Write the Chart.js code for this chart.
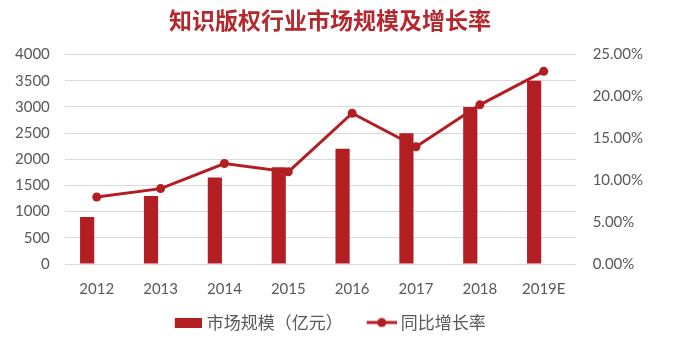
<!DOCTYPE html>
<html>
<head>
<meta charset="utf-8">
<script src="https://cdn.jsdelivr.net/npm/chart.js@4/dist/chart.umd.min.js"></script>
<style>
  html, body { margin: 0; padding: 0; background: #fff; }
  #wrap { width: 684px; height: 345px; }
</style>
</head>
<body>
<div id="wrap"><canvas id="chart"></canvas></div>
<script>
// 年份与数据
const years = ['2012', '2013', '2014', '2015', '2016', '2017', '2018', '2019E'];
const marketSize = [900, 1300, 1650, 1850, 2200, 2500, 3000, 3500];   // 亿元
const growthRate = [8, 9, 12, 11, 18, 14, 19, 23];                    // %
const leftTicks = [0, 4000, 500];
const rightTicks = [0, 25, 5];

const RED = '#B31E23';
const TICK_COLOR = '#595959';
const NUM_FONT = 'Lato, "Noto Sans CJK SC", sans-serif';
const CJK_FONT = '"Noto Sans CJK SC", sans-serif';

// 图例图标：柱形色块、带圆点的折线（图标靠右，紧贴文字）
function barIcon() {
    const c = document.createElement('canvas');
    c.width = 31; c.height = 10;
    const g = c.getContext('2d');
    g.fillStyle = RED;
    g.fillRect(4, 0, 27, 10);
    return c;
}
function lineIcon() {
    const c = document.createElement('canvas');
    c.width = 33; c.height = 12;
    const g = c.getContext('2d');
    g.strokeStyle = RED;
    g.lineWidth = 3;
    g.beginPath(); g.moveTo(3, 6); g.lineTo(33, 6); g.stroke();
    g.fillStyle = RED;
    g.beginPath(); g.arc(18, 6, 4.5, 0, Math.PI * 2); g.fill();
    return c;
}

const ctx = document.getElementById('chart').getContext('2d');
new Chart(ctx, {
    data: {
        labels: years,
        datasets: [
            {
                type: 'line',
                label: '同比增长率',
                data: growthRate,
                yAxisID: 'y1',
                borderColor: RED,
                backgroundColor: RED,
                borderWidth: 3,
                pointRadius: 4.5,
                pointBackgroundColor: RED,
                pointBorderWidth: 0,
                tension: 0,
                order: 1,
            },
            {
                type: 'bar',
                label: '市场规模（亿元）',
                data: marketSize,
                yAxisID: 'y',
                backgroundColor: RED,
                borderWidth: 0,
                categoryPercentage: 0.6,
                barPercentage: 0.74,
                order: 2,
            },
            {
                // 占位柱，让柱形偏向类别左侧
                type: 'bar',
                label: '_pad',
                data: years.map(() => null),
                yAxisID: 'y',
                backgroundColor: 'rgba(0,0,0,0)',
                categoryPercentage: 0.6,
                barPercentage: 0.74,
                order: 3,
            },
        ],
    },
    options: {
        responsive: true,
        maintainAspectRatio: false,
        animation: false,
        devicePixelRatio: 1,
        layout: { padding: { left: 0, right: 24, top: 4, bottom: 4 } },
        plugins: {
            title: {
                display: true,
                text: '知识版权行业市场规模及增长率',
                color: '#B5282D',
                font: { size: 23, weight: 'bold', family: CJK_FONT },
                padding: { top: 2, bottom: 21 },
            },
            legend: {
                position: 'bottom',
                labels: {
                    usePointStyle: true,
                    pointStyleWidth: 24,
                    color: TICK_COLOR,
                    font: { size: 17, family: CJK_FONT },
                    padding: 0,
                    generateLabels(chart) {
                        return [
                            { text: '市场规模（亿元）\u3000\u3000', pointStyle: barIcon(), fontColor: TICK_COLOR, datasetIndex: 1, lineWidth: 0, strokeStyle: 'rgba(0,0,0,0)', fillStyle: RED },
                            { text: '同比增长率', pointStyle: lineIcon(), fontColor: TICK_COLOR, datasetIndex: 0, lineWidth: 0, strokeStyle: 'rgba(0,0,0,0)', fillStyle: RED },
                        ];
                    },
                },
            },
            tooltip: { enabled: false },
        },
        scales: {
            x: {
                grid: { display: false, drawTicks: false },
                border: { display: false },
                ticks: {
                    color: TICK_COLOR,
                    font: { size: 15, family: NUM_FONT },
                    padding: 16,
                },
            },
            y: {
                position: 'left',
                min: leftTicks[0],
                max: leftTicks[1],
                ticks: {
                    stepSize: leftTicks[2],
                    color: TICK_COLOR,
                    font: { size: 15, family: NUM_FONT },
                    padding: 15,
                    callback: (v) => String(v),
                },
                grid: { color: '#D9D9D9', lineWidth: 1, drawTicks: false },
                border: { display: false },
            },
            y1: {
                position: 'right',
                min: rightTicks[0],
                max: rightTicks[1],
                ticks: {
                    stepSize: rightTicks[2],
                    color: TICK_COLOR,
                    font: { size: 15, family: NUM_FONT },
                    padding: 17,
                    callback: (v) => v.toFixed(2) + '%',
                },
                grid: { display: false, drawTicks: false },
                border: { display: false },
            },
        },
    },
});
</script>
</body>
</html>
